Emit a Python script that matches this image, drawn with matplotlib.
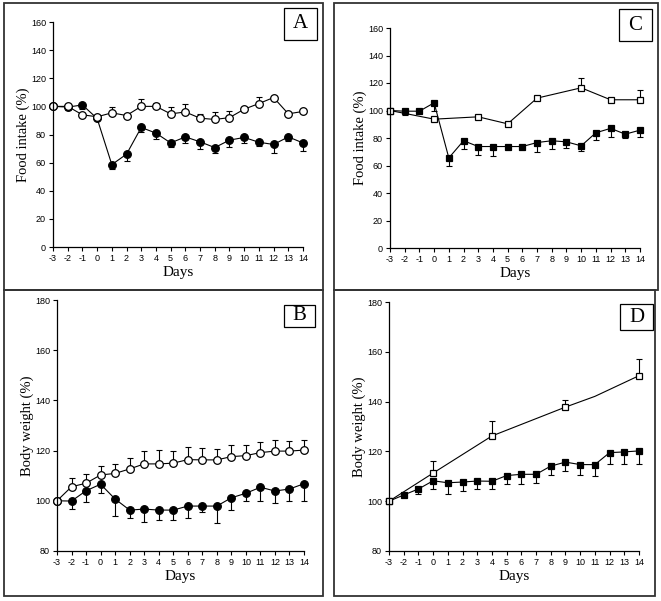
import matplotlib
matplotlib.use("Agg")
import matplotlib.pyplot as plt
from matplotlib.patches import Rectangle

plt.rcParams["axes.unicode_minus"] = False

days = list(range(-3, 15))

# A: food intake, circles
a_open = [100, 100, 94, 92.6, 95.4, 93.5, 100, 100, 94.7, 96, 91.6, 90.7, 92, 98, 102, 106.3, 94.7, 96.4]
a_open_err = [0, 1, 1, 1, 4.5, 1, 5, 2.5, 5, 6, 3, 5, 4.5, 1, 5, 1, 1, 1]
a_fill = [100, 99.5, 101, 91.4, 58.6, 66, 85, 81, 74, 78.3, 74.8, 70.7, 76, 77.9, 74.5, 72.9, 78.3, 74]
a_fill_err = [0, 2, 3, 1, 3, 5, 3, 4, 3, 4, 5, 4, 5, 4, 3, 6, 3, 6]

# B: body weight, circles
b_open = [100, 105.6, 107, 110.3, 110.9, 112.7, 114.7, 114.7, 115, 116.4, 116.3, 116.3, 117.6, 118, 119.2, 119.8, 119.8, 120.2]
b_open_err = [0, 3.5, 3.6, 3.6, 3.6, 4.3, 5, 5.6, 5, 5, 4.6, 4.5, 4.5, 4.4, 4.1, 4.5, 4.2, 4.1]
b_fill = [100, 99.9, 104, 106.6, 100.7, 96.3, 96.7, 96.3, 96.3, 97.9, 97.9, 97.9, 101.2, 103, 105.4, 103.9, 104.7, 106.8]
b_fill_err = [0, 3.2, 4.5, 3.3, 6.6, 3.3, 5, 4, 4, 4.6, 2.4, 6.9, 4.9, 3.2, 5.3, 4.6, 4.6, 6.8]

# C: food intake, squares
c_open_days = [-3, 0, 3, 5, 7, 10, 12, 14]
c_open = [100, 93.7, 95.4, 90.3, 109, 116.5, 107.8, 107.8]
c_open_err = [0, 1, 1.5, 1, 1, 7.5, 1, 7]
c_fill = [100, 99.5, 99.5, 105.6, 65.5, 78, 73.8, 73.8, 73.8, 73.8, 76.7, 78, 77.2, 74.3, 83.8, 87, 82.8, 85.7]
c_fill_err = [0, 3, 1, 6, 6, 6, 6, 7, 2, 2, 7, 6, 4.5, 3.5, 5, 6, 3, 5]

# D: body weight, squares
d_line_days = [-3, 0, 4, 9, 11, 14]
d_line = [100, 111.3, 126.2, 137.8, 142.1, 150.4]
d_open_days = [-3, 0, 4, 9, 14]
d_open = [100, 111.3, 126.2, 137.8, 150.4]
d_open_err = [0, 4.8, 5.9, 3, 6.8]
d_fill = [100, 102.5, 104.9, 108.2, 107.4, 107.7, 108.1, 108, 110.3, 110.8, 110.8, 114.1, 115.7, 114.7, 114.7, 119.5, 119.8, 120.2]
d_fill_err = [0, 0.8, 2.1, 3.2, 4.4, 3.6, 3.2, 3.3, 3.5, 3.7, 3.5, 3.7, 3.7, 4.3, 4.5, 4.4, 4.7, 5.1]

W, H = 661, 601
fig = plt.figure(figsize=(W / 100, H / 100), dpi=100)
fig.patch.set_facecolor("white")

serif = "Liberation Serif"
sans = "Liberation Sans"


def px_axes(x0, x1, ytop, ybot):
    return fig.add_axes([x0 / W, 1 - ybot / H, (x1 - x0) / W, (ybot - ytop) / H])


def frame(x0, y0, x1, y1):
    fig.add_artist(Rectangle((x0 / W, 1 - y1 / H), (x1 - x0) / W, (y1 - y0) / H,
                             transform=fig.transFigure, fill=False, lw=1.3, ec="#333333"))


def letter(x0, y0, x1, y1, s):
    fig.add_artist(Rectangle((x0 / W, 1 - y1 / H), (x1 - x0) / W, (y1 - y0) / H,
                             transform=fig.transFigure, fill=False, lw=0.9, ec="black"))
    fig.text((x0 + x1) / 2 / W, 1 - (y0 + y1) / 2 / H, s, family=serif, fontsize=15,
             ha="center", va="center")


def style(ax, ylim, yticks, ylabel):
    ax.set_xlim(-3, 14)
    ax.set_ylim(*ylim)
    ax.set_xticks(days)
    ax.set_yticks(yticks)
    for s in ["top", "right"]:
        ax.spines[s].set_visible(False)
    for s in ["left", "bottom"]:
        ax.spines[s].set_linewidth(0.9)
    ax.tick_params(direction="out", length=3, width=0.8, labelsize=6.5, pad=2)
    for t in ax.get_xticklabels() + ax.get_yticklabels():
        t.set_family(sans)
    ax.set_xlabel("Days", family=serif, fontsize=11, labelpad=2)
    ax.set_ylabel(ylabel, family=serif, fontsize=10.5, labelpad=1)
    ax.patch.set_alpha(0)


def series(ax, x, y, err, marker, filled, ms, up):
    lo = [0] * len(err) if up else err
    hi = err if up else [0] * len(err)
    ax.errorbar(x, y, yerr=[lo, hi], fmt="none", ecolor="black", elinewidth=0.8,
                capsize=2, capthick=0.8, clip_on=False)
    ax.plot(x, y, color="black", lw=0.8, marker=marker, ms=ms,
            mfc="black" if filled else "white", mec="black", mew=0.9, clip_on=False)


# panel frames
frame(4, 3, 323, 290)
frame(4, 290, 323, 596)
frame(334, 3, 658, 290)
frame(334, 290, 655, 596)

# A
ax = px_axes(53, 303, 22, 247)
series(ax, days, a_fill, a_fill_err, "o", True, 5.5, False)
series(ax, days, a_open, a_open_err, "o", False, 5.5, True)
style(ax, (0, 160), range(0, 161, 20), "Food intake (%)")
letter(284, 8, 317, 40, "A")

# B
ax = px_axes(57, 304, 300, 551)
series(ax, days, b_fill, b_fill_err, "o", True, 5.5, False)
series(ax, days, b_open, b_open_err, "o", False, 5.5, True)
style(ax, (80, 180), range(80, 181, 20), "Body weight (%)")
letter(284, 305, 315, 327, "B")

# C
ax = px_axes(390, 640, 28, 248)
series(ax, days, c_fill, c_fill_err, "s", True, 5, False)
series(ax, c_open_days, c_open, c_open_err, "s", False, 5, True)
style(ax, (0, 160), range(0, 161, 20), "Food intake (%)")
letter(619, 9, 652, 41, "C")

# D
ax = px_axes(389, 639, 302, 551)
series(ax, days, d_fill, d_fill_err, "s", True, 5, False)
ax.plot(d_line_days, d_line, color="black", lw=0.8, clip_on=False)
ax.errorbar(d_open_days, d_open, yerr=[[0] * len(d_open_err), d_open_err], fmt="none",
            ecolor="black", elinewidth=0.8, capsize=2, capthick=0.8, clip_on=False)
ax.plot(d_open_days, d_open, ls="none", marker="s", ms=5, mfc="white", mec="black",
        mew=0.9, clip_on=False)
style(ax, (80, 180), range(80, 181, 20), "Body weight (%)")
letter(620, 304, 653, 330, "D")

fig.savefig("out.png", dpi=100)
